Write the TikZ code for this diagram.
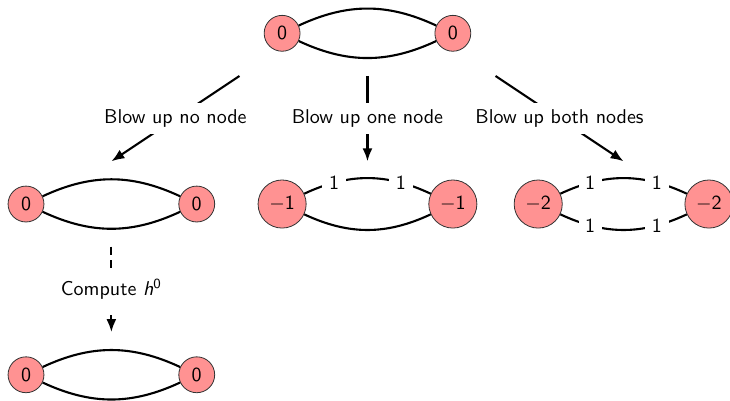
\documentclass[tikz,border=0pt]{standalone}
\usetikzlibrary{arrows.meta}
\definecolor{nodefill}{RGB}{255,146,146}
\tikzset{
  every node/.style={font=\sffamily},
  vtx/.style={circle, draw=black!80, fill=nodefill},
  edg/.style={line width=1.05pt},
  lbl/.style={fill=white},
  arr/.style={line width=1.05pt, -{Latex[length=6.5pt,width=5pt]}},
  dsh/.style={line width=1.05pt, dash pattern=on 4pt off 2.7pt},
}
\begin{document}
\begin{tikzpicture}[x=1cm,y=1cm]
\useasboundingbox (-0.457,-3.444) rectangle (12.37,3.585);
% top graph
\node[vtx] (t1) at (4.5,3) {0};
\node[vtx] (t2) at (7.5,3) {0};
\draw[edg] (t1) to[bend left=25] (t2);
\draw[edg] (t1) to[bend right=25] (t2);
% middle-left graph
\node[vtx] (a1) at (0,0) {0};
\node[vtx] (a2) at (3,0) {0};
\draw[edg] (a1) to[bend left=25] (a2);
\draw[edg] (a1) to[bend right=25] (a2);
% middle graph
\node[vtx] (b1) at (4.5,0) {$-$1};
\node[vtx] (b2) at (7.5,0) {$-$1};
\draw[edg] (b1) to[bend left=25] node[lbl,pos=0.23]{1} node[lbl,pos=0.77]{1} (b2);
\draw[edg] (b1) to[bend right=25] (b2);
% right graph
\node[vtx] (c1) at (9,0) {$-$2};
\node[vtx] (c2) at (12,0) {$-$2};
\draw[edg] (c1) to[bend left=25] node[lbl,pos=0.23]{1} node[lbl,pos=0.77]{1} (c2);
\draw[edg] (c1) to[bend right=25] node[lbl,pos=0.23]{1} node[lbl,pos=0.77]{1} (c2);
% bottom graph
\node[vtx] (d1) at (0,-3) {0};
\node[vtx] (d2) at (3,-3) {0};
\draw[edg] (d1) to[bend left=25] (d2);
\draw[edg] (d1) to[bend right=25] (d2);
% arrows
\coordinate (s1) at (3.75,2.25);
\coordinate (e1) at (1.5,0.75);
\coordinate (s2) at (6,2.25);
\coordinate (e2) at (6,0.75);
\coordinate (s3) at (8.25,2.25);
\coordinate (e3) at (10.5,0.75);
\draw[arr] (s1) -- node[lbl]{Blow up no node} (e1);
\draw[arr] (s2) -- node[lbl]{Blow up one node} (e2);
\draw[arr] (s3) -- node[lbl]{Blow up both nodes} (e3);
% compute
\coordinate (p1) at (1.5,-0.75);
\coordinate (p2) at (1.5,-1.12);
\coordinate (p3) at (1.5,-1.95);
\coordinate (p4) at (1.5,-2.25);
\node (cl) at (1.5,-1.5) {Compute \textit{h}\textsuperscript{0}};
\draw[dsh] (p1) -- (p2);
\draw[arr] (p3) -- (p4);
\end{tikzpicture}
\end{document}
